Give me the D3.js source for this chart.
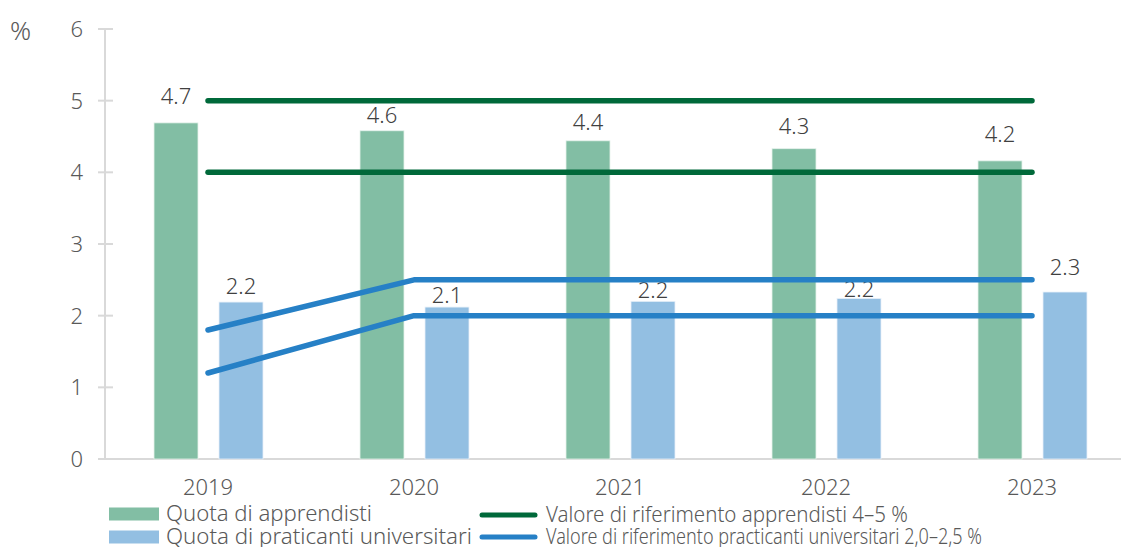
<!DOCTYPE html>
<html>
<head>
<meta charset="utf-8">
<script src="https://cdn.jsdelivr.net/npm/d3@7"></script>
<style>
  body { margin: 0; background: #fff; }
  svg text { font-family: "Noto Sans", "Open Sans", sans-serif; font-weight: 300; }
</style>
</head>
<body>
<svg width="1121" height="547"></svg>
<script>
// DATA
const years = ["2019", "2020", "2021", "2022", "2023"];
const apprendisti = [4.69, 4.58, 4.44, 4.33, 4.16];
const universitari = [2.19, 2.12, 2.2, 2.24, 2.33];
const apprLabels = ["4.7", "4.6", "4.4", "4.3", "4.2"];
const uniLabels = ["2.2", "2.1", "2.2", "2.2", "2.3"];
const refApprHigh = [5, 5, 5, 5, 5];
const refApprLow = [4, 4, 4, 4, 4];
const refUniHigh = [1.8, 2.5, 2.5, 2.5, 2.5];
const refUniLow = [1.2, 2.0, 2.0, 2.0, 2.0];
const yTicks = [0, 1, 2, 3, 4, 5, 6];

// label lift above bar top (px), hand-placed in the original
const apprLift = [19, 8, 11, 15, 19];
const uniLift = [8, 4, 3, 1, 17];

const svg = d3.select("svg");
const green = "#82bea4";
const blue = "#93bfe2";
const darkGreen = "#00693a";
const lineBlue = "#2680c6";
const textCol = "#595959";

// SCALES
const x = d3.scaleBand().domain(years).range([105, 1135]);
const inner = d3.scaleBand().domain(["a", "u"]).range([-54, 55]).paddingInner(21 / 65);
const y = d3.scaleLinear().domain([0, 6]).range([459, 29]);
const cx = yr => x(yr) + x.bandwidth() / 2;

// AXES
svg.append("line")
  .attr("x1", 105).attr("x2", 105)
  .attr("y1", y(6)).attr("y2", y(0))
  .attr("stroke", "#d9d9d9").attr("stroke-width", 2);
svg.append("line")
  .attr("x1", 98).attr("x2", 1121)
  .attr("y1", y(0)).attr("y2", y(0))
  .attr("stroke", "#d9d9d9").attr("stroke-width", 2);

svg.selectAll("line.tick")
  .data(yTicks)
  .enter().append("line")
  .attr("class", "tick")
  .attr("x1", 98).attr("x2", 113)
  .attr("y1", d => y(d)).attr("y2", d => y(d))
  .attr("stroke", "#d9d9d9").attr("stroke-width", 2);

svg.selectAll("text.ytick")
  .data(yTicks)
  .enter().append("text")
  .attr("class", "ytick")
  .attr("x", 83)
  .attr("y", d => y(d))
  .attr("dy", "0.36em")
  .attr("text-anchor", "end")
  .attr("font-size", "22px")
  .attr("fill", textCol)
  .text(d => d);

svg.append("text")
  .attr("x", 10).attr("y", 40)
  .attr("font-size", "26px")
  .attr("fill", textCol)
  .text("%");

svg.selectAll("text.xtick")
  .data(years)
  .enter().append("text")
  .attr("class", "xtick")
  .attr("x", d => cx(d))
  .attr("y", 495)
  .attr("text-anchor", "middle")
  .attr("font-size", "22px")
  .attr("fill", textCol)
  .text(d => d);

// BARS
const groups = svg.selectAll("g.year")
  .data(years)
  .enter().append("g")
  .attr("class", "year")
  .attr("transform", d => `translate(${cx(d)},0)`);

groups.append("rect")
  .attr("x", inner("a"))
  .attr("width", inner.bandwidth())
  .attr("y", (d, i) => y(apprendisti[i]))
  .attr("height", (d, i) => y(0) - y(apprendisti[i]))
  .attr("fill", green)
  .attr("stroke", "#e6f2ec").attr("stroke-width", 0.8);

groups.append("rect")
  .attr("x", inner("u"))
  .attr("width", inner.bandwidth())
  .attr("y", (d, i) => y(universitari[i]))
  .attr("height", (d, i) => y(0) - y(universitari[i]))
  .attr("fill", blue)
  .attr("stroke", "#e8f1f9").attr("stroke-width", 0.8);

// REFERENCE LINES
const line = d3.line().x((d, i) => cx(years[i])).y(d => y(d));
[[refApprHigh, darkGreen], [refApprLow, darkGreen], [refUniHigh, lineBlue], [refUniLow, lineBlue]]
  .forEach(([vals, col]) => {
    svg.append("path")
      .attr("d", line(vals))
      .attr("fill", "none")
      .attr("stroke", col)
      .attr("stroke-width", 5.5)
      .attr("stroke-linecap", "round")
      .attr("stroke-linejoin", "round");
  });

// LABELS
groups.append("text")
  .attr("x", inner("a") + inner.bandwidth() / 2)
  .attr("y", (d, i) => y(apprendisti[i]) - apprLift[i])
  .attr("text-anchor", "middle")
  .attr("font-size", "22px")
  .attr("fill", "#404040")
  .text((d, i) => apprLabels[i]);

groups.append("text")
  .attr("x", inner("u") + inner.bandwidth() / 2)
  .attr("y", (d, i) => y(universitari[i]) - uniLift[i])
  .attr("text-anchor", "middle")
  .attr("font-size", "22px")
  .attr("fill", "#404040")
  .text((d, i) => uniLabels[i]);

// LEGEND (text widths squeezed to match the condensed original face)
const legendRows = [
  { type: "rect", col: green, x: 109, y: 514, w: 206, label: "Quota di apprendisti" },
  { type: "rect", col: blue, x: 109, y: 537, w: 306, label: "Quota di praticanti universitari" },
  { type: "line", col: darkGreen, x: 482, y: 515, w: 362, label: "Valore di riferimento apprendisti 4\u20135 %" },
  { type: "line", col: lineBlue, x: 482, y: 537, w: 436, label: "Valore di riferimento practicanti universitari 2,0\u20132,5 %" }
];

legendRows.forEach(r => {
  if (r.type === "rect") {
    svg.append("rect")
      .attr("x", r.x).attr("y", r.y - 6.5)
      .attr("width", 50).attr("height", 13)
      .attr("fill", r.col);
  } else {
    svg.append("line")
      .attr("x1", r.x).attr("x2", r.x + 53)
      .attr("y1", r.y).attr("y2", r.y)
      .attr("stroke", r.col).attr("stroke-width", 5)
      .attr("stroke-linecap", "round");
  }
  svg.append("text")
    .attr("x", r.type === "rect" ? 166 : 546)
    .attr("y", r.y + 7)
    .attr("font-size", "21px")
    .attr("textLength", r.w)
    .attr("lengthAdjust", "spacingAndGlyphs")
    .attr("fill", textCol)
    .text(r.label);
});
</script>
</body>
</html>
